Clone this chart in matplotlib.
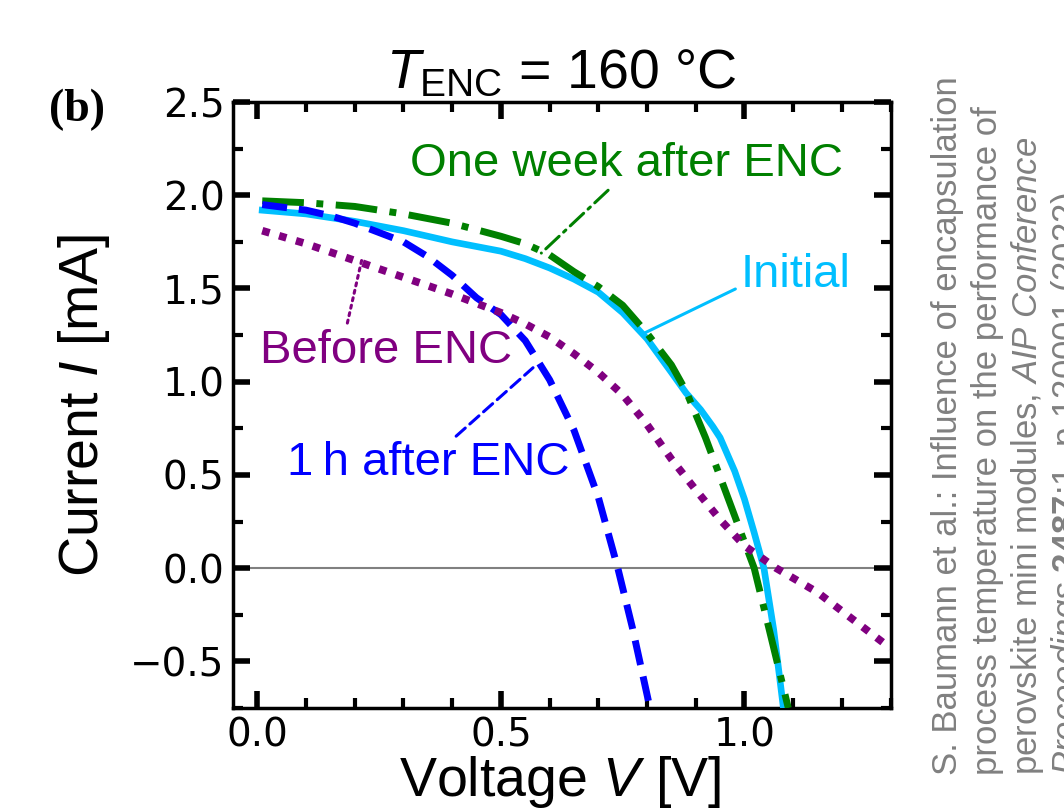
import numpy as np
import matplotlib
matplotlib.use("Agg")
import matplotlib.pyplot as plt
from matplotlib.ticker import MultipleLocator

plt.rcParams['mathtext.fontset'] = 'custom'
plt.rcParams['mathtext.rm'] = 'Liberation Sans'
plt.rcParams['mathtext.it'] = 'Liberation Sans:italic'
plt.rcParams['mathtext.bf'] = 'Liberation Sans:bold'

# I-V curves (voltage in V, current in mA)
V_init = [0.01, 0.1, 0.2, 0.3, 0.4, 0.5, 0.55, 0.6, 0.65, 0.7, 0.75, 0.8, 0.85, 0.88, 0.91,
          0.935, 0.95, 0.965, 0.98, 1.0, 1.02, 1.04, 1.06, 1.08]
I_init = [1.92, 1.90, 1.86, 1.81, 1.75, 1.70, 1.66, 1.61, 1.55, 1.48, 1.37, 1.23, 1.05, 0.94, 0.85,
          0.76, 0.70, 0.61, 0.52, 0.37, 0.19, 0.0, -0.33, -0.75]

V_week = [0.01, 0.1, 0.2, 0.3, 0.4, 0.5, 0.55, 0.6, 0.65, 0.7, 0.75, 0.8, 0.85, 0.88,
          0.92, 0.95, 0.99, 1.02, 1.05, 1.09]
I_week = [1.97, 1.96, 1.94, 1.90, 1.85, 1.78, 1.74, 1.68, 1.59, 1.51, 1.41, 1.26, 1.09, 0.95,
          0.70, 0.49, 0.21, 0.0, -0.32, -0.75]

V_1h = [0.01, 0.1, 0.15, 0.2, 0.25, 0.3, 0.35, 0.4, 0.45, 0.5, 0.55, 0.6, 0.65, 0.7,
        0.74, 0.77, 0.806]
I_1h = [1.95, 1.92, 1.89, 1.85, 1.80, 1.75, 1.67, 1.57, 1.45, 1.36, 1.22, 1.01, 0.74, 0.38,
        0.0, -0.32, -0.75]

V_before = [0.01, 0.1, 0.2, 0.3, 0.4, 0.5, 0.55, 0.6, 0.65, 0.7, 0.75, 0.8, 0.85, 0.9,
            0.95, 1.0, 1.065, 1.15, 1.3]
I_before = [1.81, 1.74, 1.65, 1.56, 1.47, 1.37, 1.31, 1.24, 1.15, 1.05, 0.93, 0.77, 0.585, 0.42,
            0.26, 0.12, 0.0, -0.13, -0.43]

c_init = '#00BFFF'
c_week = '#008000'
c_1h = '#0000FF'
c_before = '#800080'

fig = plt.figure(figsize=(10.64, 8.10), dpi=100)
ax = fig.add_axes([0.219, 0.126, 0.618, 0.748])

ax.axhline(0, color='gray', lw=1.5, zorder=1)
ax.plot(V_init, I_init, color=c_init, lw=4.8, zorder=3, solid_joinstyle='round')
ax.plot(V_week, I_week, color=c_week, lw=5, ls=(0, (6, 1.8, 1, 1.8)), zorder=4)
ax.plot(V_1h, I_1h, color=c_1h, lw=5, ls=(0, (3.6, 1.7)), zorder=4)
ax.plot(V_before, I_before, color=c_before, lw=5.5, ls=(0, (1, 1.3)), zorder=4)

lab_font = 'Liberation Sans'
ax.annotate('One week after ENC', xy=(0.583, 1.69), xytext=(0.757, 2.17),
            color=c_week, fontsize=34, family=lab_font, ha='center', va='center',
            arrowprops=dict(arrowstyle='-', color=c_week, lw=2.2, ls=(0, (6, 2, 1, 2)),
                            relpos=(0.47, 0.0), shrinkA=2, shrinkB=0))
ax.annotate('Initial', xy=(0.794, 1.26), xytext=(1.105, 1.57),
            color=c_init, fontsize=34, family=lab_font, ha='center', va='center',
            arrowprops=dict(arrowstyle='-', color=c_init, lw=2.2,
                            relpos=(0.0, 0.25), shrinkA=2, shrinkB=0))
ax.annotate('Before ENC', xy=(0.214, 1.65), xytext=(0.265, 1.167),
            color=c_before, fontsize=34, family=lab_font, ha='center', va='center',
            arrowprops=dict(arrowstyle='-', color=c_before, lw=2.2, ls=(0, (1, 1.5)),
                            relpos=(0.34, 1.0), shrinkA=2, shrinkB=0))
ax.annotate('1\u2009h after ENC', xy=(0.566, 1.075), xytext=(0.351, 0.565),
            color=c_1h, fontsize=34, family=[lab_font, 'DejaVu Sans'], ha='center', va='center',
            arrowprops=dict(arrowstyle='-', color=c_1h, lw=2.2, ls=(0, (4, 2)),
                            relpos=(0.58, 1.0), shrinkA=2, shrinkB=0))

ax.set_xlim(-0.05, 1.3)
ax.set_ylim(-0.75, 2.5)
ax.xaxis.set_major_locator(MultipleLocator(0.5))
ax.xaxis.set_minor_locator(MultipleLocator(0.1))
ax.yaxis.set_major_locator(MultipleLocator(0.5))
ax.yaxis.set_minor_locator(MultipleLocator(0.25))
ax.tick_params(which='both', direction='in', top=True, right=True)
ax.tick_params(which='major', length=12, width=4, labelsize=28, pad=6)
ax.tick_params(which='minor', length=7, width=3)
for s in ax.spines.values():
    s.set_linewidth(2.5)

ax.set_xlabel('Voltage $V$ [V]', fontsize=40, family=lab_font)
ax.set_ylabel('Current $I$ [mA]', fontsize=40, family=lab_font)
ax.xaxis.set_label_coords(0.497, -0.076)
ax.yaxis.set_label_coords(-0.184, 0.5)
ax.set_title(r'$T_{\mathrm{ENC}}$ = 160 °C', fontsize=40, family=lab_font, pad=10)

fig.text(0.072, 0.864, '(b)', fontsize=33, family='Liberation Serif', weight='bold',
         ha='center', va='center')

cite = ['S. Baumann et al.: Influence of encapsulation',
        'process temperature on the performance of',
        r'perovskite mini modules, $\mathit{AIP\ Conference}$',
        r'$\mathit{Proceedings}$ $\mathbf{2487}$:1, p.120001 (2022)']
for k, line in enumerate(cite):
    fig.text((947 + 40 * k) / 1064, 1 - 775 / 810, line, rotation=90, rotation_mode='anchor',
             ha='left', va='center', fontsize=25, color='gray', family=lab_font)

fig.savefig('out.png', dpi=100)
